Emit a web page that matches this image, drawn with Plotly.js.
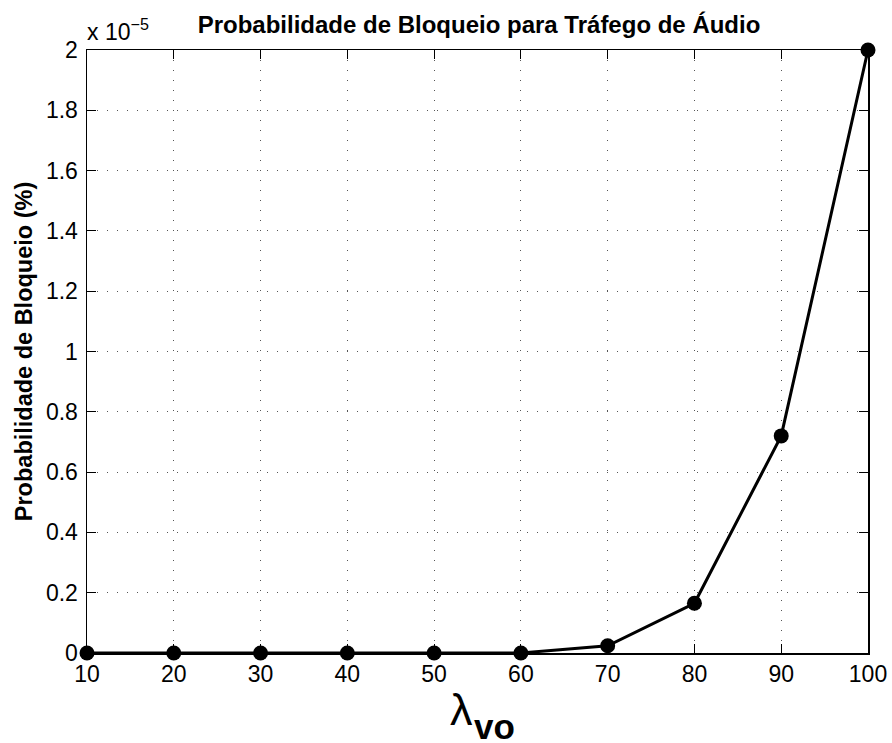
<!DOCTYPE html>
<html>
<head>
<meta charset="utf-8">
<script src="https://cdn.plot.ly/plotly-3.0.1.min.js"></script>
<style>html,body{margin:0;padding:0;background:#fff;}#chart{width:892px;height:743px;}</style>
</head>
<body>
<div id="chart"></div>
<script>
// Data (y values in units of 1e-5)
const lambdaVo = [10, 20, 30, 40, 50, 60, 70, 80, 90, 100];
const blockProb = [0, 0, 0, 0, 0, 0, 0.024, 0.165, 0.72, 2.0];
const xTicks = [10, 20, 30, 40, 50, 60, 70, 80, 90, 100];
const yTicks = [0, 0.2, 0.4, 0.6, 0.8, 1, 1.2, 1.4, 1.6, 1.8, 2];
const yTickText = ['0', '0.2', '0.4', '0.6', '0.8', '1', '1.2', '1.4', '1.6', '1.8', '2'];

const FONT = 'Liberation Sans, Arial, Helvetica, sans-serif';

const trace = {
  x: lambdaVo, y: blockProb, type: 'scatter', mode: 'lines+markers',
  line: {color: '#000', width: 3},
  marker: {color: '#000', size: 15, symbol: 'circle'},
  cliponaxis: false, hoverinfo: 'none'
};

const axisCommon = {
  showline: true, linecolor: '#000', linewidth: 1.5, mirror: 'ticks',
  ticks: 'inside', ticklen: 9, tickcolor: '#000', tickwidth: 1,
  showgrid: true, gridcolor: '#555', gridwidth: 1, griddash: '1px,9px',
  zeroline: false, tickfont: {family: FONT, size: 23, color: '#000'}
};

const layout = {
  width: 892, height: 743,
  margin: {l: 87, r: 24, t: 50, b: 90},
  paper_bgcolor: '#fff', plot_bgcolor: '#fff',
  showlegend: false,
  title: {text: '<b>Probabilidade de Bloqueio para Tráfego de Áudio</b>',
          font: {family: FONT, size: 24, color: '#000'}, x: 0.537, xanchor: 'center', y: 0.967, yanchor: 'middle'},
  xaxis: Object.assign({}, axisCommon, {
    range: [10, 100], tickvals: xTicks, ticktext: xTicks.map(String), ticklabelstandoff: 0
  }),
  yaxis: Object.assign({}, axisCommon, {
    range: [0, 2], tickvals: yTicks, ticktext: yTickText, ticklabelstandoff: 3,
    title: {text: '<b>Probabilidade de Bloqueio (%)</b>', font: {family: FONT, size: 23.5, color: '#000'}, standoff: 6}
  }),
  annotations: [
    {text: 'x 10<sup>−5</sup>', xref: 'paper', yref: 'paper', x: 0, y: 1, xanchor: 'left', yanchor: 'bottom',
     yshift: 3, xshift: -2, showarrow: false, font: {family: FONT, size: 23, color: '#000'}},
    {text: 'λ', xref: 'paper', yref: 'paper', x: 0.5, y: 0, xanchor: 'right', yanchor: 'top',
     xshift: -3, yshift: -29, showarrow: false, font: {family: FONT, size: 45, color: '#000'}},
    {text: '<b>vo</b>', xref: 'paper', yref: 'paper', x: 0.5, y: 0, xanchor: 'left', yanchor: 'top',
     xshift: -6, yshift: -52, showarrow: false, font: {family: FONT, size: 35, color: '#000'}}
  ]
};

Plotly.newPlot('chart', [trace], layout, {staticPlot: true, displayModeBar: false});
</script>
</body>
</html>
